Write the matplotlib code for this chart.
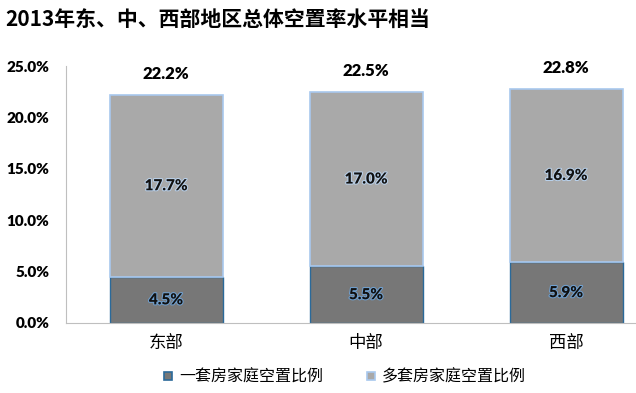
import matplotlib
matplotlib.use("Agg")
import matplotlib.pyplot as plt
import matplotlib.patheffects as pe
from matplotlib.lines import Line2D

plt.rcParams['font.family'] = ['Noto Sans CJK SC', 'DejaVu Sans']

categories = ["东部", "中部", "西部"]
single_home = [4.5, 5.5, 5.9]
multi_home = [17.7, 17.0, 16.9]
totals = [22.2, 22.5, 22.8]
series_names = ["一套房家庭空置比例", "多套房家庭空置比例"]
yticks = [0, 5, 10, 15, 20, 25]
title = "2013年东、中、西部地区总体空置率水平相当"

fig = plt.figure(figsize=(6.36, 3.93), dpi=100)
ax = fig.add_axes([66/636, 70/393, 570/636, 257/393])

x = list(range(len(categories)))
w = 0.565
ax.bar(x, single_home, width=w, color="#777777", edgecolor="#2b6a9a", linewidth=1.0, label=series_names[0])
ax.bar(x, multi_home, width=w, bottom=single_home, color="#a9a9a9", edgecolor="#a8c8ee", linewidth=1.2, label=series_names[1])

num_font = ["Lato", "DejaVu Sans"]
nw = "heavy"
for i in x:
    ax.text(i, single_home[i] / 2, f"{single_home[i]:.1f}%", ha="center", va="center",
            fontsize=11, fontweight=nw, color="#111111", family=num_font,
            path_effects=[pe.withStroke(linewidth=1.5, foreground="#6fa0d0")])
    ax.text(i, single_home[i] + multi_home[i] / 2, f"{multi_home[i]:.1f}%", ha="center", va="center",
            fontsize=11, fontweight=nw, color="#111111", family=num_font,
            path_effects=[pe.withStroke(linewidth=1.5, foreground="#b8d0ea")])
    ax.text(i, single_home[i] + multi_home[i] + 1.2, f"{totals[i]:.1f}%", ha="center", va="bottom",
            fontsize=12, fontweight=nw, color="#000000", family=num_font)

ax.set_xlim(-0.5, -0.5 + 570 / 200)
ax.set_ylim(0, 25)
ax.set_yticks(yticks)
ax.set_yticklabels([f"{t:.1f}%" for t in yticks], fontsize=11, fontweight=nw, family=num_font)
ax.set_xticks(x)
ax.set_xticklabels(categories, fontsize=12.5)
ax.tick_params(axis="both", length=0)
ax.tick_params(axis="x", pad=8)
ax.tick_params(axis="y", pad=12)
for s in ["top", "right"]:
    ax.spines[s].set_visible(False)
ax.spines["left"].set_color("#bfbfbf")
ax.spines["bottom"].set_color("#bfbfbf")

fig.text(5/636, 1 - 20/393, title, fontsize=15, fontweight="bold", ha="left", va="center")

handles = [Line2D([], [], marker="s", linestyle="none", markersize=6, markerfacecolor="#777777", markeredgecolor="#2b6a9a", markeredgewidth=1.2),
           Line2D([], [], marker="s", linestyle="none", markersize=6, markerfacecolor="#a9a9a9", markeredgecolor="#a8c8ee", markeredgewidth=1.2)]
fig.legend(handles, series_names, loc="center", bbox_to_anchor=(343/636, 1 - 377/393), ncol=2,
           frameon=False, fontsize=11.5, handletextpad=0.2, columnspacing=2.5, handlelength=1.0)

fig.savefig("out.png", dpi=100)
